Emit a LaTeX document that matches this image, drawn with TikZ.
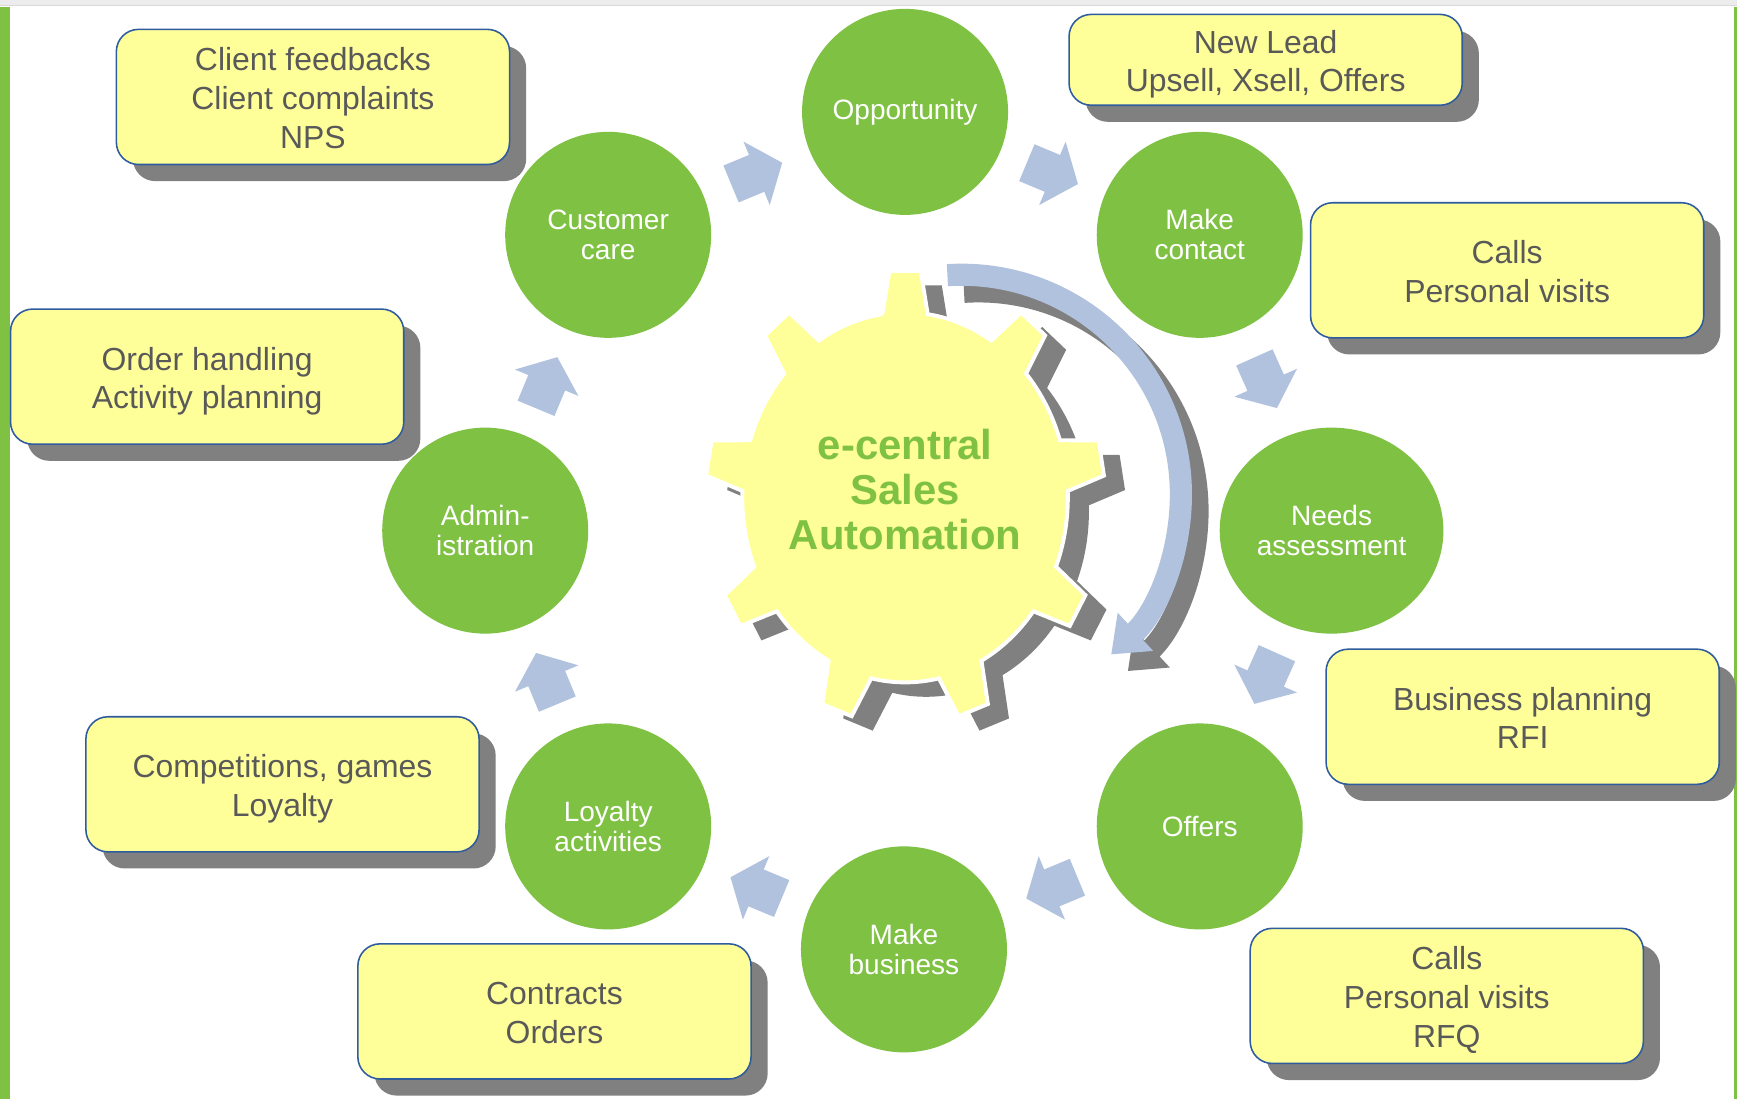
\documentclass[tikz,border=0pt]{standalone}
\usepackage{fontspec}
\setmainfont{Liberation Sans}
\usetikzlibrary{shapes.geometric,shadows,calc,arrows.meta}
\definecolor{sagreen}{RGB}{127,193,66}
\definecolor{sayellow}{RGB}{255,255,153}
\definecolor{saarrow}{RGB}{176,194,221}
\definecolor{saborder}{RGB}{47,92,158}
\definecolor{sashadow}{RGB}{128,128,128}
\definecolor{satext}{RGB}{89,89,89}
\definecolor{saband}{RGB}{236,236,236}
\newcommand\gearoutline{(98:167) \foreach \k in {0,...,8} { -- ({94.5-40*\k}:205) -- ({85.5-40*\k}:205) -- ({82-40*\k}:167) arc[start angle={82-40*\k}, end angle={58-40*\k}, radius=167] } -- cycle}
\newcommand\boxlines[1]{\raisebox{-0.09cm}[\height][\depth]{\begin{tabular}{@{}c@{}}#1\end{tabular}}}
\begin{document}
\begin{tikzpicture}[x=0.02cm,y=0.02cm,
  stage/.style={circle, fill=sagreen, minimum size=3.72cm, inner sep=0pt, text=white, align=center, font=\fontsize{14.4}{15.4}\selectfont},
  infobox/.style={rectangle, rounded corners=0.4cm, fill=sayellow, draw=saborder, line width=0.8pt, minimum width=7.1cm, minimum height=2.44cm, inner sep=0pt, text=satext, font=\fontsize{16.4}{19.9}\selectfont, drop shadow={shadow xshift=0.3cm, shadow yshift=-0.3cm, fill=sashadow, opacity=1, draw=none}},
  flowarrow/.style={fill=saarrow},
  geartext/.style={text=sagreen, align=center, font=\bfseries\fontsize{21.5}{23.3}\selectfont},
  curvearrow/.style={line width=0.4cm, -{Triangle[width=0.9cm,length=0.6cm]}}
]
\useasboundingbox (0,0) rectangle (1568,992);
\fill[white] (0,0) rectangle (1568,992);
\fill[saband] (0,987) rectangle (1568,992);
\draw[black!15, line width=0.4pt] (0,987) -- (1568,987);
\fill[sagreen] (0,0) rectangle (8.6,986);
\fill[sagreen] (1565.5,0) rectangle (1568,986);

% gear
\begin{scope}
  \clip (0,0) rectangle (1568,660) (790,660) rectangle (1568,992);
  \begin{scope}[shift={(836,530)}, xscale=0.88]
    \fill[sashadow] \gearoutline;
  \end{scope}
\end{scope}
\begin{scope}[shift={(817,543)}, xscale=0.88]
  \filldraw[fill=sayellow, draw=white, line width=0.07cm] \gearoutline;
\end{scope}
\node[geartext] (core) at (817,550) {e-central\\Sales\\Automation};

% curved arrow
\coordinate (arcc) at (868,546);
\coordinate (arcs) at (883,531);
\draw[curvearrow, sashadow] ($(arcs)+(93.7:198)$) arc[start angle=93.7, end angle=-47, radius=198];
\draw[curvearrow, saarrow] ($(arcc)+(93.7:198)$) arc[start angle=93.7, end angle=-47, radius=198];

% stages
\node[stage] (opp) at (817,891) {Opportunity};
\node[stage] (cc) at (549,780) {Customer\\care};
\node[stage] (mc) at (1083,780) {Make\\contact};
\node[stage, ellipse, minimum width=4.04cm, minimum height=3.72cm] (needs) at (1202,513) {Needs\\assessment};
\node[stage] (adm) at (438,513) {Admin-\\istration};
\node[stage] (loy) at (549,246) {Loyalty\\activities};
\node[stage] (off) at (1083,246) {Offers};
\node[stage] (mb) at (816,135) {Make\\business};

% flow arrows between consecutive stages
\foreach \a/\b in {cc/opp, opp/mc, mc/needs, needs/off, off/mb, mb/loy, loy/adm, adm/cc}
  \fill[flowarrow] let \p1=($(\b)-(\a)$), \n1={atan2(\y1,\x1)}, \p2=($(\a)!0.5!(\b)$) in
    ($(\p2)+(\n1:-25)+(\n1+90:18)$) -- ($(\p2)+(\n1+90:18)$) -- ($(\p2)+(\n1+90:31)$)
    -- ($(\p2)+(\n1:25)$) -- ($(\p2)+(\n1-90:31)$) -- ($(\p2)+(\n1-90:18)$)
    -- ($(\p2)+(\n1:-25)+(\n1-90:18)$) -- cycle;

% info boxes
\node[infobox] (b1) at (282.5,904.5) {\boxlines{Client feedbacks\\Client complaints\\NPS}};
\node[infobox, minimum height=1.64cm] (b2) at (1142.5,938) {\boxlines{New Lead\\Upsell, Xsell, Offers}};
\node[infobox] (b3) at (1360.5,748) {\boxlines{Calls\\Personal visits}};
\node[infobox] (b4) at (187,652) {\boxlines{Order handling\\Activity planning}};
\node[infobox] (b5) at (1374.5,345) {\boxlines{Business planning\\RFI}};
\node[infobox] (b6) at (255,284) {\boxlines{Competitions, games\\Loyalty}};
\node[infobox] (b7) at (500.5,79) {\boxlines{Contracts\\Orders}};
\node[infobox] (b8) at (1306,93) {\boxlines{Calls\\Personal visits\\RFQ}};
\end{tikzpicture}
\end{document}
